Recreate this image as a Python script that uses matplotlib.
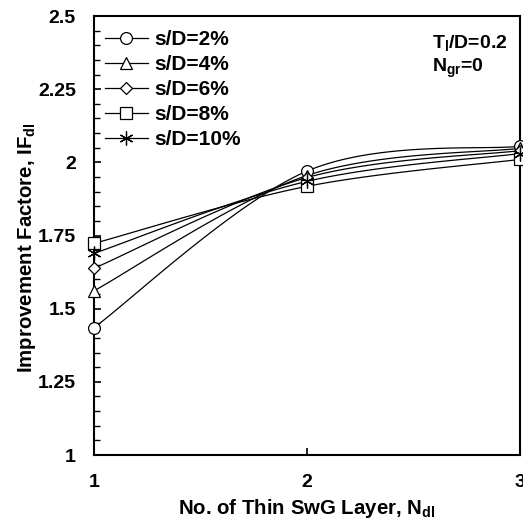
import numpy as np
import matplotlib
matplotlib.use("Agg")
import matplotlib.pyplot as plt
from matplotlib.ticker import MultipleLocator

plt.rcParams['font.family'] = ['Liberation Sans', 'DejaVu Sans']
plt.rcParams['font.weight'] = 'bold'
plt.rcParams['mathtext.fontset'] = 'custom'
plt.rcParams['mathtext.rm'] = 'Liberation Sans:bold'
plt.rcParams['mathtext.bf'] = 'Liberation Sans:bold'
plt.rcParams['mathtext.default'] = 'rm'

# ---- data ----
layers = [1, 2, 3]
labels = ['s/D=2%', 's/D=4%', 's/D=6%', 's/D=8%', 's/D=10%']
sd2 = [1.435, 1.970, 2.055]
sd4 = [1.561, 1.955, 2.048]
sd6 = [1.638, 1.948, 2.040]
sd8 = [1.723, 1.918, 2.010]
sd10 = [1.689, 1.935, 2.030]
series = [sd2, sd4, sd6, sd8, sd10]
markers = ['o', '^', 'D', 's', (6, 2, 0)]
msizes = [8.5, 8.5, 6.5, 8.5, 10]


def smooth(xs, ys, n=60):
    """Excel-like Catmull-Rom Bezier smoothing through the points."""
    P = np.column_stack([xs, ys]).astype(float)
    m = len(P)
    out = []
    for i in range(m - 1):
        p0 = P[i - 1] if i > 0 else P[i]
        p1 = P[i]
        p2 = P[i + 1]
        p3 = P[i + 2] if i + 2 < m else P[i + 1]
        c1 = p1 + (p2 - p0) / 6.0
        c2 = p2 - (p3 - p1) / 6.0
        t = np.linspace(0, 1, n)[:, None]
        seg = ((1 - t) ** 3) * p1 + 3 * ((1 - t) ** 2) * t * c1 + 3 * (1 - t) * t ** 2 * c2 + t ** 3 * p2
        out.append(seg if i == 0 else seg[1:])
    out = np.vstack(out)
    return out[:, 0], out[:, 1]


fig = plt.figure(figsize=(5.23, 5.20), dpi=100)
ax = fig.add_axes([94 / 523, 1 - 455 / 520, 426 / 523, 439 / 520])

for ys, lab, mk, ms in zip(series, labels, markers, msizes):
    sx, sy = smooth(layers, ys)
    face = 'none' if mk == (6, 2, 0) else 'white'
    ax.plot(sx, sy, color='black', lw=0.9, clip_on=False, zorder=2)
    ax.plot(layers, ys, linestyle='none', marker=mk, ms=ms, mfc=face,
            mec='black', mew=0.9, clip_on=False, zorder=3)
    ax.plot([], [], color='black', lw=0.9, marker=mk, ms=ms,
            mfc=face, mec='black', mew=0.9, label=lab)

ax.set_xlim(1, 3)
ax.set_ylim(1, 2.5)
ax.yaxis.set_minor_locator(MultipleLocator(0.05))
ax.set_yticks([1, 1.25, 1.5, 1.75, 2, 2.25, 2.5])
ax.set_yticklabels(['1', '1.25', '1.5', '1.75', '2', '2.25', '2.5'])
ax.set_xticks([1, 2, 3])
ax.set_xticklabels(['1', '2', '3'])

ax.tick_params(axis='both', which='major', direction='in', length=5, width=1.2,
               labelsize=14, pad=13)
ax.tick_params(axis='y', which='minor', direction='in', length=4, width=1.0)
ax.tick_params(axis='x', which='major', pad=14)
for s in ax.spines.values():
    s.set_linewidth(1.5)

ax.set_xlabel(r'No. of Thin SwG Layer, N$_{\mathregular{dl}}$', fontsize=14.7, fontweight='bold', labelpad=4)
ax.set_ylabel(r'Improvement Factore, IF$_{\mathregular{dl}}$', fontsize=14.7, fontweight='bold')
ax.yaxis.set_label_coords((38 - 94) / 426, (455 - 248) / 439)

ax.text(432 / 523, 1 - 48 / 520, r'T$_{\mathregular{l}}$/D=0.2', transform=fig.transFigure,
        fontsize=14, fontweight='bold', va='baseline', ha='left')
ax.text(432 / 523, 1 - 72 / 520, r'N$_{\mathregular{gr}}$=0', transform=fig.transFigure,
        fontsize=14, fontweight='bold', va='baseline', ha='left')

leg = ax.legend(loc='upper left', bbox_to_anchor=(105 / 523, 1 - 30 / 520),
                bbox_transform=fig.transFigure, frameon=False, fontsize=15,
                handlelength=2.05, handletextpad=0.3, labelspacing=0.29,
                borderpad=0, borderaxespad=0)

fig.savefig('out.png', dpi=100)
